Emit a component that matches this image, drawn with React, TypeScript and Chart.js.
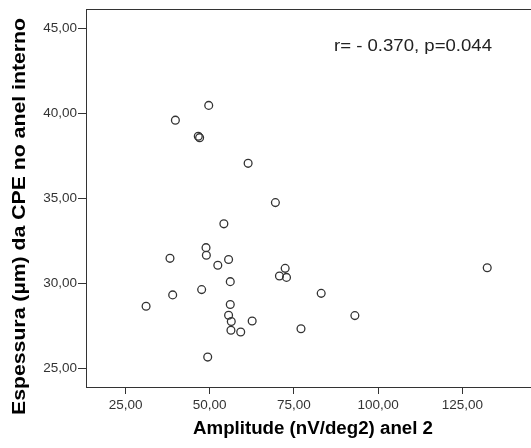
import React, { useEffect, useRef } from "react";
import { Chart, registerables } from "chart.js";

Chart.register(...registerables);

// Amplitude (nV/deg2) anel 2
const amplitude: number[] = [
  49.7, 39.8, 46.6, 47.0, 61.4, 69.5, 54.2, 48.9, 49.0, 38.2,
  55.6, 52.4, 72.4, 70.7, 72.8, 56.1, 47.6, 39.0, 31.1, 56.1,
  55.6, 56.4, 62.6, 56.3, 59.2, 49.4, 132.4, 83.1, 93.1, 77.1,
];
// Espessura (µm) da CPE no anel interno
const espessura: number[] = [
  40.47, 39.6, 38.65, 38.57, 37.06, 34.75, 33.5, 32.1, 31.65, 31.47,
  31.4, 31.06, 30.88, 30.43, 30.35, 30.1, 29.63, 29.32, 28.65, 28.75,
  28.12, 27.75, 27.78, 27.24, 27.14, 25.66, 30.92, 29.41, 28.1, 27.33,
];

const xTicks: number[] = [25, 50, 75, 100, 125];
const yTicks: number[] = [25, 30, 35, 40, 45];

const xTitle = "Amplitude (nV/deg2) anel 2";
const yTitle = "Espessura (µm) da CPE no anel interno";
const annotation = "r= - 0.370, p=0.044";

const FONT = "'Liberation Sans', Arial, sans-serif";

function fmt(v: number): string {
  return v.toFixed(2).replace(".", ",");
}

function drawFitted(
  ctx: CanvasRenderingContext2D,
  text: string,
  cx: number,
  cy: number,
  width: number,
  font: string,
  color: string,
  rotate: boolean
) {
  ctx.save();
  ctx.font = font;
  ctx.fillStyle = color;
  ctx.textAlign = "center";
  ctx.textBaseline = "middle";
  const w = ctx.measureText(text).width;
  const s = width / w;
  ctx.translate(cx, cy);
  if (rotate) ctx.rotate(-Math.PI / 2);
  ctx.scale(s, 1);
  ctx.fillText(text, 0, 0);
  ctx.restore();
}

const textPlugin = {
  id: "textPlugin",
  afterDraw(chart: any) {
    const ctx: CanvasRenderingContext2D = chart.ctx;
    const area = chart.chartArea;
    ctx.save();
    ctx.strokeStyle = "#333";
    ctx.lineWidth = 1;
    ctx.beginPath();
    ctx.moveTo(area.left, Math.round(area.top) + 0.5);
    ctx.lineTo(area.right, Math.round(area.top) + 0.5);
    ctx.stroke();
    ctx.restore();

    drawFitted(ctx, annotation, 413, 46, 158, `16.5px ${FONT}`, "#222", false);
    drawFitted(ctx, xTitle, 313, 429, 240, `bold 18px ${FONT}`, "#000", false);
    drawFitted(ctx, yTitle, 20, 216.5, 397, `bold 18px ${FONT}`, "#000", true);
  },
};

export default function App() {
  const ref = useRef<HTMLCanvasElement | null>(null);

  useEffect(() => {
    if (!ref.current) return;
    const chart = new Chart(ref.current, {
      type: "scatter",
      data: {
        datasets: [
          {
            data: amplitude.map((x, i) => ({ x, y: espessura[i] })),
            pointRadius: 3.9,
            pointBorderWidth: 1.3,
            pointBorderColor: "#333",
            pointBackgroundColor: "rgba(255,255,255,0)",
            pointStyle: "circle",
          },
        ],
      },
      options: {
        responsive: false,
        animation: false,
        devicePixelRatio: 1,
        layout: { padding: { left: 0, right: 0, top: 9, bottom: 0 } },
        plugins: {
          legend: { display: false },
          tooltip: { enabled: false },
          title: { display: false },
        },
        scales: {
          x: {
            type: "linear",
            min: 13.26,
            max: 146.5,
            afterBuildTicks: (axis: any) => {
              axis.ticks = xTicks.map((v) => ({ value: v }));
            },
            afterFit: (scale: any) => {
              scale.height = 61;
            },
            grid: {
              display: true,
              drawOnChartArea: false,
              drawTicks: true,
              tickLength: 7,
              color: "#333",
            },
            border: { display: true, color: "#333", width: 1 },
            ticks: {
              padding: 3,
              color: "#333",
              font: { family: FONT, size: 13.5 },
              callback: (v: any) => fmt(Number(v)),
              maxRotation: 0,
              autoSkip: false,
            },
          },
          y: {
            type: "linear",
            min: 23.9,
            max: 46.135,
            afterBuildTicks: (axis: any) => {
              axis.ticks = yTicks.map((v) => ({ value: v }));
            },
            afterFit: (scale: any) => {
              scale.width = 86;
            },
            grid: {
              display: true,
              drawOnChartArea: false,
              drawTicks: true,
              tickLength: 8,
              color: "#333",
            },
            border: { display: true, color: "#333", width: 1 },
            ticks: {
              padding: 1,
              color: "#333",
              font: { family: FONT, size: 13.5 },
              callback: (v: any) => fmt(Number(v)),
              autoSkip: false,
            },
          },
        },
      },
      plugins: [textPlugin],
    });
    return () => chart.destroy();
  }, []);

  return (
    <div
      style={{
        position: "fixed",
        left: 0,
        top: 0,
        width: 531,
        height: 448,
        overflow: "hidden",
        background: "#fff",
      }}
    >
      <canvas ref={ref} width={540} height={448} style={{ display: "block" }} />
    </div>
  );
}
